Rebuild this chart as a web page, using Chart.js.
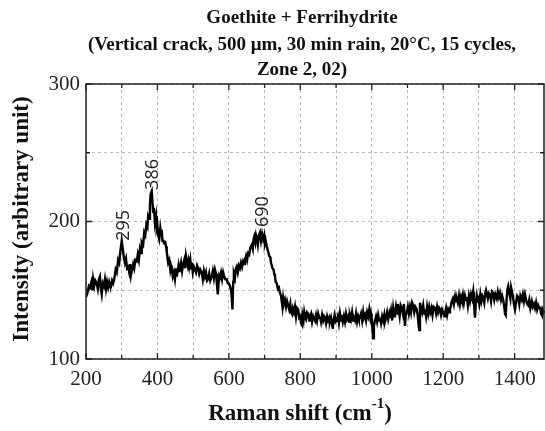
<!DOCTYPE html>
<html>
<head>
<meta charset="utf-8">
<script src="https://cdn.jsdelivr.net/npm/chart.js@4"></script>
<style>
  html, body { margin: 0; padding: 0; background: #fff; }
  canvas { display: block; }
</style>
</head>
<body>
<canvas id="ramanChart" width="545" height="431"></canvas>
<script>
// Raman shift (cm-1) and intensity
const shift = [
  200, 204, 208, 211, 215, 218, 220, 223, 226, 230,
  233, 236, 239, 241, 244, 247, 250, 253, 256, 259,
  262, 265, 267, 270, 273, 276, 279, 283, 286, 290,
  293, 296, 300, 303, 306, 309, 312, 315, 318, 321,
  324, 326, 329, 332, 335, 338, 342, 345, 348, 351,
  354, 356, 360, 363, 366, 369, 372, 374, 377, 379,
  381, 384, 386, 388, 390, 393, 396, 398, 400, 402,
  405, 408, 410, 412, 414, 416, 419, 421, 424, 426,
  428, 430, 433, 436, 438, 440, 443, 446, 449, 452,
  454, 456, 459, 461, 463, 466, 469, 472, 475, 478,
  480, 482, 485, 487, 489, 492, 494, 496, 499, 502,
  505, 508, 511, 514, 517, 520, 524, 527, 530, 533,
  536, 539, 542, 545, 548, 552, 555, 558, 561, 564,
  566, 569, 571, 573, 575, 578, 581, 584, 587, 590,
  594, 597, 600, 603, 606, 608, 610, 612, 614, 617,
  619, 622, 625, 628, 631, 634, 637, 640, 643, 645,
  648, 651, 654, 657, 660, 664, 667, 669, 671, 674,
  676, 678, 681, 684, 687, 690, 693, 696, 699, 701,
  703, 706, 708, 710, 713, 716, 718, 720, 722, 725,
  727, 729, 731, 734, 737, 740, 743, 746, 748, 750,
  752, 754, 757, 760, 763, 766, 769, 772, 774, 776,
  779, 782, 785, 788, 791, 794, 797, 800, 802, 804,
  806, 809, 811, 813, 816, 819, 822, 825, 827, 830,
  833, 836, 839, 841, 844, 847, 850, 853, 855, 858,
  861, 864, 867, 869, 872, 875, 878, 881, 883, 886,
  889, 891, 893, 896, 899, 902, 905, 908, 911, 914,
  916, 919, 922, 925, 928, 931, 934, 937, 939, 942,
  945, 948, 950, 953, 956, 959, 962, 964, 967, 970,
  973, 976, 978, 981, 984, 987, 990, 993, 996, 998,
  1000, 1002, 1004, 1006, 1009, 1012, 1015, 1018, 1021, 1023,
  1026, 1029, 1032, 1035, 1037, 1040, 1043, 1046, 1049, 1051,
  1054, 1057, 1060, 1063, 1065, 1068, 1071, 1073, 1075, 1078,
  1081, 1084, 1087, 1090, 1093, 1095, 1098, 1101, 1104, 1107,
  1110, 1113, 1116, 1119, 1122, 1126, 1129, 1131, 1133, 1135,
  1138, 1141, 1144, 1147, 1149, 1152, 1155, 1158, 1161, 1164,
  1167, 1170, 1173, 1177, 1180, 1183, 1186, 1189, 1191, 1194,
  1197, 1200, 1203, 1205, 1208, 1211, 1214, 1217, 1219, 1221,
  1224, 1227, 1230, 1233, 1236, 1238, 1241, 1244, 1247, 1250,
  1252, 1255, 1258, 1261, 1264, 1266, 1269, 1272, 1275, 1278,
  1281, 1284, 1286, 1289, 1291, 1294, 1296, 1298, 1301, 1304,
  1307, 1310, 1312, 1315, 1318, 1320, 1322, 1325, 1328, 1331,
  1334, 1337, 1340, 1343, 1346, 1350, 1353, 1356, 1359, 1362,
  1365, 1368, 1371, 1373, 1375, 1378, 1380, 1382, 1385, 1388,
  1390, 1392, 1395, 1398, 1401, 1404, 1407, 1410, 1413, 1416,
  1420, 1423, 1426, 1429, 1432, 1435, 1438, 1441, 1444, 1448,
  1451, 1454, 1457, 1460, 1463, 1466, 1469, 1471, 1474, 1476,
  1478, 1481, 1483
];
const intensity = [
  145, 148, 153, 152, 156, 150, 158, 153, 157, 155,
  151, 158, 160, 152, 147, 155, 153, 158, 151, 156,
  152, 156, 154, 153, 157, 155, 158, 165, 163, 172,
  170, 178, 186, 180, 174, 170, 173, 166, 167, 163,
  169, 161, 165, 169, 166, 172, 171, 176, 172, 180,
  177, 185, 183, 192, 190, 198, 196, 204, 202, 212,
  220, 222, 214, 207, 210, 199, 204, 195, 197, 190,
  187, 195, 191, 194, 186, 186, 184, 186, 182, 178,
  174, 170, 172, 165, 168, 166, 160, 163, 158, 166,
  160, 163, 168, 164, 166, 170, 164, 169, 172, 166,
  175, 175, 168, 171, 167, 172, 166, 170, 163, 167,
  165, 163, 168, 166, 162, 165, 163, 158, 164, 160,
  163, 157, 158, 162, 157, 160, 164, 159, 165, 162,
  156, 147, 155, 161, 160, 163, 158, 163, 160, 158,
  158, 155, 155, 153, 150, 145, 136, 156, 162, 159,
  165, 167, 163, 168, 166, 170, 167, 171, 169, 172,
  175, 172, 177, 176, 181, 183, 180, 187, 189, 185,
  190, 188, 183, 190, 192, 186, 191, 187, 190, 184,
  186, 182, 180, 178, 175, 174, 170, 170, 166, 165,
  162, 160, 156, 155, 151, 152, 148, 146, 142, 138,
  144, 140, 143, 138, 142, 139, 136, 140, 134, 133,
  137, 134, 138, 131, 137, 136, 130, 131, 126, 125,
  132, 128, 134, 131, 129, 134, 133, 128, 131, 133,
  127, 131, 129, 128, 132, 128, 133, 130, 131, 127,
  132, 128, 131, 130, 126, 131, 128, 130, 127, 130,
  125, 122, 128, 132, 127, 128, 131, 126, 133, 128,
  132, 127, 131, 127, 133, 129, 131, 127, 132, 129,
  134, 128, 130, 128, 133, 127, 131, 129, 130, 133,
  128, 134, 130, 132, 128, 134, 131, 136, 130, 133,
  130, 121, 115, 124, 128, 131, 127, 132, 128, 130,
  126, 131, 128, 132, 127, 130, 134, 129, 133, 130,
  135, 128, 137, 131, 132, 138, 133, 140, 136, 131,
  139, 137, 133, 140, 124, 132, 134, 138, 133, 138,
  134, 141, 139, 134, 138, 136, 131, 125, 121, 141,
  137, 134, 139, 133, 136, 131, 138, 133, 138, 134,
  137, 132, 138, 137, 133, 138, 134, 137, 136, 132,
  136, 134, 131, 133, 137, 132, 136, 134, 137, 138,
  142, 144, 140, 145, 142, 144, 141, 146, 140, 145,
  143, 147, 141, 146, 143, 145, 139, 146, 142, 147,
  144, 149, 141, 130, 140, 146, 143, 144, 140, 147,
  142, 146, 145, 141, 148, 150, 150, 144, 148, 147,
  142, 149, 148, 143, 147, 144, 149, 145, 148, 143,
  146, 143, 138, 133, 132, 145, 151, 153, 148, 144,
  152, 152, 146, 140, 136, 141, 146, 145, 140, 146,
  143, 147, 142, 147, 143, 140, 139, 143, 137, 142,
  138, 140, 137, 141, 136, 139, 137, 138, 133, 132,
  136, 134, 135
];

// peak annotations: text and where the text starts (shift, intensity)
const peakText = ['295', '386', '690'];
const peakShift = [306, 386, 694];
const peakLevel = [186, 223, 196];

const titleLines = [
  'Goethite + Ferrihydrite',
  '(Vertical crack, 500 \u03bcm, 30 min rain, 20\u00b0C, 15 cycles,',
  'Zone 2, 02)'
];
const xTickValues = [200, 300, 400, 500, 600, 700, 800, 900, 1000, 1100, 1200, 1300, 1400];
const yTickValues = [100, 150, 200, 250, 300];

const points = shift.map((x, i) => ({ x: x, y: intensity[i] }));

// frame, inward ticks, titles and peak labels
const decorations = {
  id: 'decorations',
  afterDraw(chart) {
    const c = chart.ctx;
    const a = chart.chartArea;
    const xs = chart.scales.x;
    const ys = chart.scales.y;
    c.save();

    c.strokeStyle = '#222';
    c.lineWidth = 1.5;
    c.beginPath();
    c.moveTo(a.left, a.top);
    c.lineTo(a.right - 1, a.top);
    c.lineTo(a.right - 1, a.bottom);
    c.lineTo(a.left, a.bottom);
    c.closePath();
    c.stroke();

    c.lineWidth = 1.3;
    c.beginPath();
    xTickValues.forEach(v => {
      const px = xs.getPixelForValue(v);
      const len = v % 200 === 0 ? 6 : 4;
      c.moveTo(px, a.bottom); c.lineTo(px, a.bottom - len);
      c.moveTo(px, a.top); c.lineTo(px, a.top + len);
    });
    yTickValues.forEach(v => {
      const py = ys.getPixelForValue(v);
      const len = v % 100 === 0 ? 6 : 4;
      c.moveTo(a.left, py); c.lineTo(a.left + len, py);
      c.moveTo(a.right - 1, py); c.lineTo(a.right - 1 - len, py);
    });
    c.stroke();

    // title
    c.fillStyle = '#111';
    c.textAlign = 'center';
    c.textBaseline = 'middle';
    c.font = 'bold 19px "Liberation Serif"';
    c.fillText(titleLines[0], 302, 18);
    c.fillText(titleLines[1], 302, 45);
    c.fillText(titleLines[2], 302, 70);

    // x axis title with superscript
    c.font = 'bold 23px "Liberation Serif"';
    const main = 'Raman shift (cm';
    const sup = '-1';
    const close = ')';
    const wMain = c.measureText(main).width;
    const wClose = c.measureText(close).width;
    c.font = 'bold 15px "Liberation Serif"';
    const wSup = c.measureText(sup).width;
    let x0 = 300 - (wMain + wSup + wClose) / 2;
    c.textAlign = 'left';
    c.font = 'bold 23px "Liberation Serif"';
    c.fillText(main, x0, 414);
    c.font = 'bold 15px "Liberation Serif"';
    c.fillText(sup, x0 + wMain, 404);
    c.font = 'bold 23px "Liberation Serif"';
    c.fillText(close, x0 + wMain + wSup, 414);

    // y axis title
    c.save();
    c.translate(22, 219);
    c.rotate(-Math.PI / 2);
    c.textAlign = 'center';
    c.font = 'bold 23px "Liberation Serif"';
    c.fillText('Intensity (arbitrary unit)', 0, 0);
    c.restore();

    // peak labels
    c.font = '18px "Open Sans"';
    c.fillStyle = '#222';
    peakText.forEach((t, i) => {
      const px = xs.getPixelForValue(peakShift[i]);
      const py = ys.getPixelForValue(peakLevel[i]);
      c.save();
      c.translate(px, py);
      c.rotate(-Math.PI / 2);
      c.textAlign = 'left';
      c.textBaseline = 'middle';
      c.fillText(t, 0, 0);
      c.restore();
    });

    c.restore();
  }
};

const gridStyle = { color: '#bcbcbc', lineWidth: 1, drawTicks: false };
const tickFont = { family: 'Liberation Serif', size: 21 };

new Chart(document.getElementById('ramanChart'), {
  type: 'line',
  data: {
    datasets: [{
      data: points,
      borderColor: '#000',
      borderWidth: 2.4,
      pointRadius: 0,
      tension: 0,
      fill: false
    }]
  },
  options: {
    responsive: false,
    animation: false,
    layout: { padding: { top: 84, right: 0, left: 0, bottom: 0 } },
    plugins: { legend: { display: false }, tooltip: { enabled: false }, title: { display: false } },
    scales: {
      x: {
        type: 'linear',
        min: 200,
        max: 1485,
        afterFit(s) { s.height = 72; },
        afterBuildTicks(s) { s.ticks = xTickValues.map(v => ({ value: v })); },
        ticks: {
          callback: v => (v % 200 === 0 ? String(v) : ''),
          font: tickFont,
          color: '#222',
          padding: 8,
          maxRotation: 0,
          autoSkip: false
        },
        grid: gridStyle,
        border: { display: false, dash: [3, 3] }
      },
      y: {
        min: 100,
        max: 300,
        afterFit(s) { s.width = 86; },
        afterBuildTicks(s) { s.ticks = yTickValues.map(v => ({ value: v })); },
        ticks: {
          callback: v => (v % 100 === 0 ? String(v) : ''),
          font: tickFont,
          color: '#222',
          padding: 6
        },
        grid: gridStyle,
        border: { display: false, dash: [3, 3] }
      }
    }
  },
  plugins: [decorations]
});
</script>
</body>
</html>
